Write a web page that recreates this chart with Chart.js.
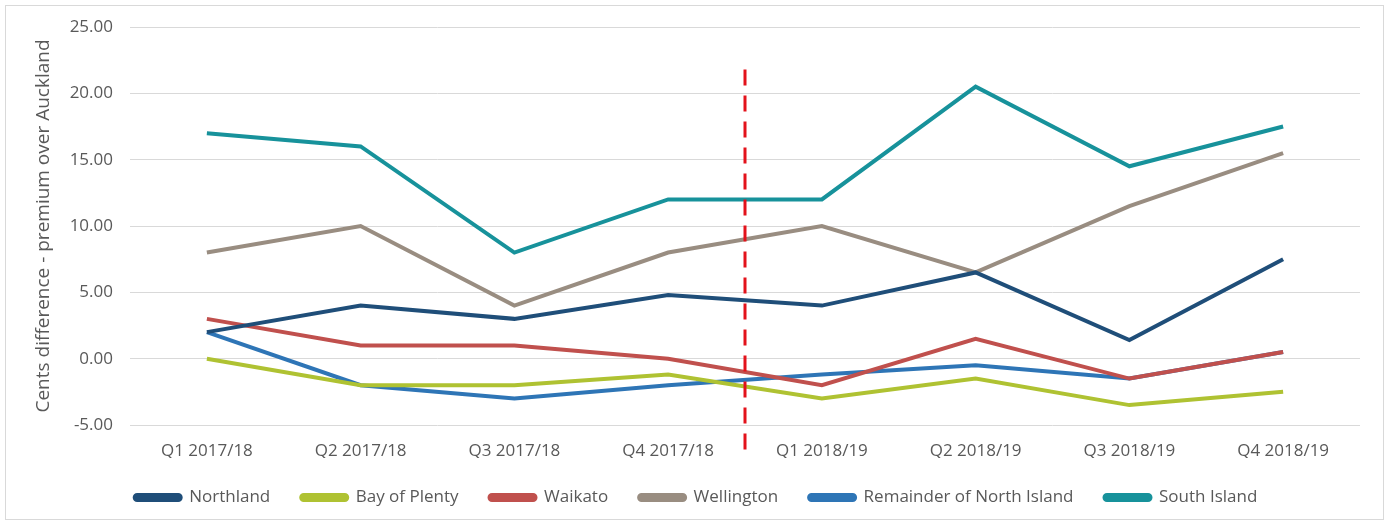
<!DOCTYPE html>
<html>
<head>
<meta charset="utf-8">
<script src="https://cdn.jsdelivr.net/npm/chart.js@4.4.1/dist/chart.umd.min.js"></script>
<style>
    body { margin: 0; background: #fff; }
    .frame { position: absolute; left: 5px; top: 5px; width: 1377px; height: 513px; border: 1px solid #d9d9d9; }
</style>
</head>
<body>
<div class="frame"><canvas id="chart" width="1377" height="513"></canvas></div>
<script>
// ==================== 数据 ====================
const quarters = ['Q1 2017/18', 'Q2 2017/18', 'Q3 2017/18', 'Q4 2017/18', 'Q1 2018/19', 'Q2 2018/19', 'Q3 2018/19', 'Q4 2018/19'];

const northland = [2.0, 4.0, 3.0, 4.8, 4.0, 6.5, 1.4, 7.5];
const bayOfPlenty = [0.0, -2.0, -2.0, -1.2, -3.0, -1.5, -3.5, -2.5];
const waikato = [3.0, 1.0, 1.0, 0.0, -2.0, 1.5, -1.5, 0.5];
const wellington = [8.0, 10.0, 4.0, 8.0, 10.0, 6.5, 11.5, 15.5];
const remainderNI = [2.0, -2.0, -3.0, -2.0, -1.2, -0.5, -1.5, 0.5];
const southIsland = [17.0, 16.0, 8.0, 12.0, 12.0, 20.5, 14.5, 17.5];

const yTicks = { min: -5, max: 25, step: 5 };

// 虚线分隔：位于 Q4 2017/18 与 Q1 2018/19 之间
const dividerIndex = 3.5;
const dividerTop = 21.8;
const dividerBottom = -7.0;

// ==================== 分隔虚线插件 ====================
const dividerPlugin = {
    id: 'divider',
    afterDatasetsDraw(chart) {
        const { ctx, scales: { x, y } } = chart;
        const px = (x.getPixelForValue(Math.floor(dividerIndex)) + x.getPixelForValue(Math.ceil(dividerIndex))) / 2;
        ctx.save();
        ctx.strokeStyle = '#e3121b';
        ctx.lineWidth = 3;
        ctx.setLineDash([16, 10]);
        ctx.beginPath();
        ctx.moveTo(px, y.getPixelForValue(dividerTop));
        ctx.lineTo(px, y.getPixelForValue(dividerBottom));
        ctx.stroke();
        ctx.restore();
    }
};

function series(label, data, color) {
    return {
        label: label,
        data: data,
        borderColor: color,
        backgroundColor: color,
        borderWidth: 4,
        pointRadius: 0,
        tension: 0,
        fill: false
    };
}

const textColor = '#595959';
const fontFamily = '"Open Sans", "Liberation Sans", sans-serif';

new Chart(document.getElementById('chart').getContext('2d'), {
    type: 'line',
    data: {
        labels: quarters,
        datasets: [
            series('Northland', northland, '#1f4e79'),
            series('Bay of Plenty', bayOfPlenty, '#afc232'),
            series('Waikato', waikato, '#c0504d'),
            series('Wellington', wellington, '#998d81'),
            series('Remainder of North Island', remainderNI, '#2e75b6'),
            series('South Island', southIsland, '#17929b')
        ]
    },
    options: {
        responsive: false,
        animation: false,
        layout: { padding: { left: 26, top: 21, right: 23, bottom: 3 } },
        plugins: {
            legend: {
                position: 'bottom',
                labels: {
                    color: textColor,
                    font: { family: fontFamily, size: 17 },
                    boxWidth: 46,
                    boxHeight: 5,
                    useBorderRadius: true,
                    borderRadius: 2.5,
                    padding: 31
                }
            },
            tooltip: { enabled: false }
        },
        scales: {
            x: {
                offset: true,
                grid: { display: false, drawTicks: false },
                border: { display: false },
                ticks: {
                    color: textColor,
                    font: { family: fontFamily, size: 17 },
                    padding: 16,
                    maxRotation: 0
                },
                afterFit: function(scale) { scale.height = 33; }
            },
            y: {
                min: yTicks.min,
                max: yTicks.max,
                grid: { color: '#d9d9d9', drawTicks: false },
                border: { display: false },
                ticks: {
                    stepSize: yTicks.step,
                    color: textColor,
                    font: { family: fontFamily, size: 17 },
                    padding: 17,
                    callback: function(value) { return value.toFixed(2); }
                },
                title: {
                    display: true,
                    text: 'Cents difference - premium over Auckland',
                    color: textColor,
                    font: { family: fontFamily, size: 19 },
                    padding: { top: 0, bottom: 4 }
                },
                afterFit: function(scale) {
                    scale.width = 98;
                    scale.paddingTop = 0;
                    scale.paddingBottom = 0;
                }
            }
        }
    },
    plugins: [dividerPlugin]
});
</script>
</body>
</html>
